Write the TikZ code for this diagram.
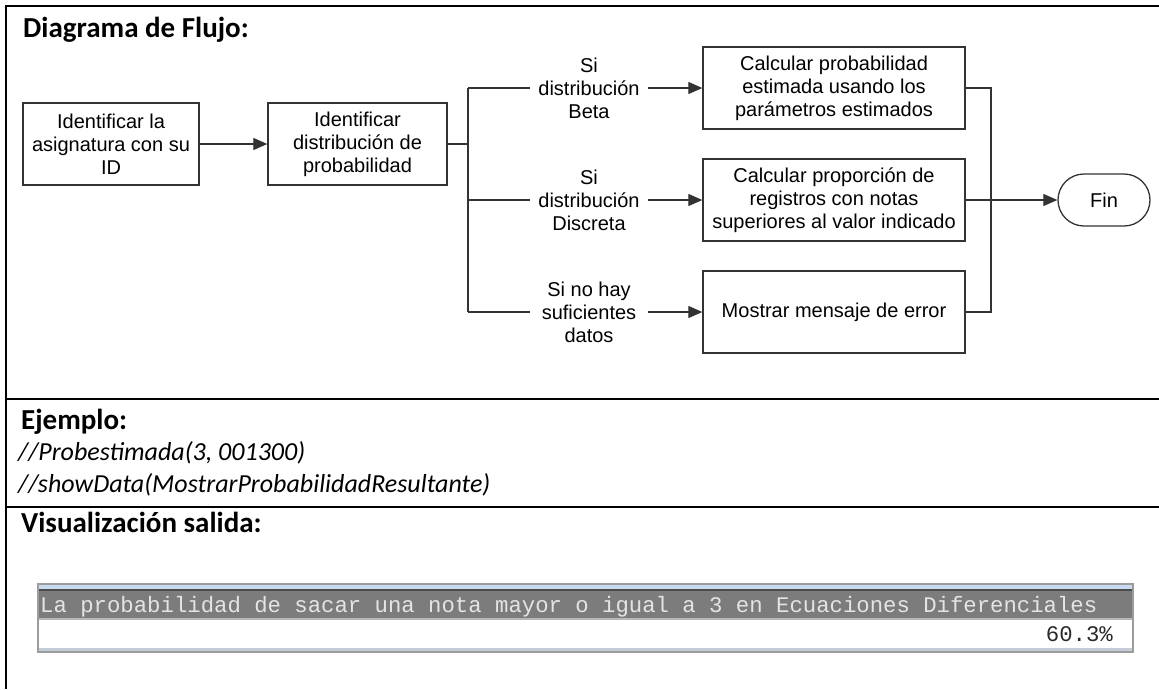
\documentclass[tikz,border=0pt]{standalone}
\usepackage{fontspec}
\setmainfont{Carlito}
\newfontfamily\flowfont{Liberation Sans}
\newfontfamily\consolefont{Liberation Mono}
\usetikzlibrary{arrows.meta,shapes.misc}
\definecolor{linegray}{HTML}{333333}
\definecolor{consoleedge}{HTML}{9C9C9C}
\definecolor{consoleblue}{HTML}{C8DAF0}
\definecolor{consoledark}{HTML}{4C4C4C}
\definecolor{consolehead}{HTML}{7C7C7C}
\definecolor{consolesep}{HTML}{B8B8B8}
\definecolor{consolebottom}{HTML}{C4CCD8}
\definecolor{consoletext}{HTML}{E4E4E4}
\definecolor{valuetext}{HTML}{2A2A2A}
\begin{document}
\begin{tikzpicture}[x=1pt,y=-1pt,
  flowtext/.style={font=\flowfont\fontsize{20}{23}\selectfont},
  procbox/.style={flowtext, draw=linegray, line width=1.3pt, rectangle,
    align=center, inner sep=0pt, minimum height=82pt},
  condlabel/.style={flowtext, align=center, inner sep=0pt, minimum width=118pt},
  terminal/.style={flowtext, draw=linegray, line width=1.3pt, rounded rectangle,
    minimum width=92pt, minimum height=52pt, inner sep=0pt},
  flow/.style={draw=linegray, line width=1.2pt},
  flowarrow/.style={flow, -{Triangle[length=14pt,width=12pt]}},
  frameline/.style={draw=black, line width=2pt},
  heading/.style={anchor=base west, inner sep=0pt, font=\bfseries\fontsize{29}{34}\selectfont},
  codeline/.style={anchor=base west, inner sep=0pt, font=\itshape\fontsize{26}{31}\selectfont},
  consolefont/.style={font=\consolefont\fontsize{22.3}{26}\selectfont, inner sep=0pt}]

\useasboundingbox (0,0) rectangle (1159,689);

% table frame
\draw[frameline] (6,689) -- (6,6) -- (1159,6);
\draw[frameline] (6,399) -- (1159,399);
\draw[frameline] (6,507) -- (1159,507);

% section headings and example calls
\node[heading] (title) at (23,37) {Diagrama de Flujo:};
\node[heading] (example) at (21,429) {Ejemplo:};
\node[codeline] (callA) at (18,460.5) {//Probestimada(3, 001300)};
\node[codeline] (callB) at (18,492) {//showData(MostrarProbabilidadResultante)};
\node[heading] (output) at (21,532) {Visualización salida:};

% flowchart nodes
\node[procbox, minimum width=176pt] (ident) at (111,144) {Identificar la\\asignatura con su\\ID};
\node[procbox, minimum width=179pt] (dist) at (357.5,144) {Identificar\\distribución de\\probabilidad};

\coordinate (split) at (468,144);
\coordinate (splitA) at (468,88);
\coordinate (splitB) at (468,200);
\coordinate (splitC) at (468,312);

\node[condlabel] (condA) at (589,88) {Si\\distribución\\Beta};
\node[condlabel] (condB) at (589,200) {Si\\distribución\\Discreta};
\node[condlabel] (condC) at (589,312) {Si no hay\\suficientes\\datos};

\node[procbox, minimum width=262pt] (procA) at (834,88) {Calcular probabilidad\\estimada usando los\\parámetros estimados};
\node[procbox, minimum width=262pt] (procB) at (834,200) {Calcular proporción de\\registros con notas\\superiores al valor indicado};
\node[procbox, minimum width=262pt] (procC) at (834,312) {Mostrar mensaje de error};

\coordinate (mergeA) at (991,88);
\coordinate (mergeC) at (991,312);

\node[terminal] (fin) at (1104,200) {Fin};

% flowchart connectors
\draw[flowarrow] (ident) -- (dist);
\draw[flow] (dist.east) -- (split);
\draw[flow] (splitA) -- (splitC);
\draw[flow] (splitA) -- (condA.west);
\draw[flow] (splitB) -- (condB.west);
\draw[flow] (splitC) -- (condC.west);
\draw[flowarrow] (condA.east) -- (procA.west);
\draw[flowarrow] (condB.east) -- (procB.west);
\draw[flowarrow] (condC.east) -- (procC.west);
\draw[flow] (procA.east) -- (mergeA) -- (mergeC) -- (procC.east);
\draw[flowarrow] (procB.east) -- (fin.west);

% console output window
\fill[consoleedge] (37,583) rectangle (1134,653);
\fill[consoleblue] (39,585) rectangle (1132,589);
\fill[consoledark] (39,589) rectangle (1132,590.5);
\fill[consolehead] (39,590.5) rectangle (1132,618);
\fill[consolesep] (39,618) rectangle (1132,620);
\fill[white] (39,620) rectangle (1132,648);
\fill[consolebottom] (39,648) rectangle (1132,651);
\node[consolefont, text=consoletext, anchor=base west] (heading) at (40,612)
  {La probabilidad de sacar una nota mayor o igual a 3 en Ecuaciones Diferenciales};
\node[consolefont, text=valuetext, anchor=base east] (value) at (1113,641) {60.3\%};
\end{tikzpicture}
\end{document}
